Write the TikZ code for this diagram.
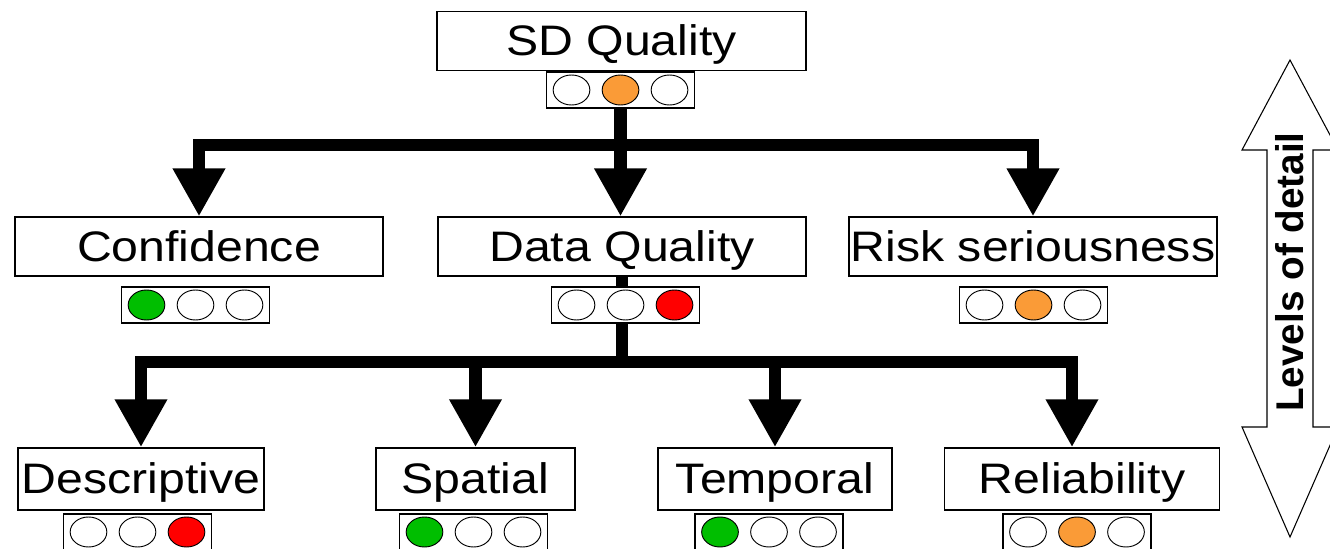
\documentclass[tikz,border=0pt]{standalone}
\usepackage{fontspec}
\setmainfont{Liberation Sans}
\newfontfamily\widefont[FakeStretch=1.13]{Liberation Sans}
\usetikzlibrary{arrows.meta,backgrounds,shapes.geometric}

\definecolor{lampgreen}{RGB}{0,190,0}
\definecolor{lamporange}{RGB}{250,155,55}
\definecolor{lampred}{RGB}{255,0,0}

\tikzset{
  namebox/.style={draw, line width=1.1pt, fill=white, inner sep=0pt,
    minimum height=44pt, text height=22pt, text depth=0pt,
    font=\widefont\fontsize{32}{36}\selectfont},
  lampbox/.style={draw, line width=1pt, fill=white, inner sep=0pt,
    minimum width=111pt, minimum height=27pt},
  lamp/.style={ellipse, draw, line width=0.7pt, inner sep=0pt,
    minimum width=27.5pt, minimum height=22.5pt},
  conn/.style={line width=9.5pt, -{Triangle[width=37pt,length=36pt]}},
}

% three lamps inside a lamp box
\newcommand{\lamps}[4]{%
  \foreach \c [count=\i] in {#2,#3,#4}
    \node[lamp, fill=\c] (#1-\i) at ([xshift=(\i-2)*36.75pt]#1.center) {};
}

\begin{document}
\begin{tikzpicture}[x=0.75pt,y=-0.75pt]
    \useasboundingbox (0,0) rectangle (1330,549);

    % Boxes
    \node[namebox, minimum width=277pt] (sdq) at (621.5,41) {SD Quality};
    \node[namebox, minimum width=276pt] (conf) at (199,246.5) {Confidence};
    \node[namebox, minimum width=276pt] (dq) at (622,246.5) {Data Quality};
    \node[namebox, minimum width=276pt] (risk) at (1033,246.5) {Risk seriousness};
    \node[namebox, minimum width=184.5pt, minimum height=46.5pt] (desc) at (141,479) {Descriptive};
    \node[namebox, minimum width=149pt, minimum height=46.5pt] (spat) at (475.5,479) {Spatial};
    \node[namebox, minimum width=175.5pt, minimum height=46.5pt] (temp) at (775,479) {Temporal};
    \node[namebox, minimum width=206pt, minimum height=46.5pt] (rel) at (1082,479) {Reliability};

    % Traffic lights
    \node[lampbox] (sdqlamps) at (620.5,90) {};
    \node[lampbox] (conflamps) at (195.5,305) {};
    \node[lampbox] (dqlamps) at (625.5,305) {};
    \node[lampbox] (risklamps) at (1033.5,305) {};
    \node[lampbox] (desclamps) at (137.5,532) {};
    \node[lampbox] (spatlamps) at (473.5,532) {};
    \node[lampbox] (templamps) at (769,532) {};
    \node[lampbox] (rellamps) at (1077,532) {};
    \lamps{sdqlamps}{white}{lamporange}{white}
    \lamps{conflamps}{lampgreen}{white}{white}
    \lamps{dqlamps}{white}{white}{lampred}
    \lamps{risklamps}{white}{lamporange}{white}
    \lamps{desclamps}{white}{white}{lampred}
    \lamps{spatlamps}{lampgreen}{white}{white}
    \lamps{templamps}{lampgreen}{white}{white}
    \lamps{rellamps}{white}{lamporange}{white}

    % Arrows
    \begin{scope}[on background layer]
        \coordinate (fork1) at (sdqlamps.south |- 0,145);
        \draw[conn] (sdqlamps.south) -- (sdqlamps.south |- dq.north);
        \draw[conn] (fork1) -| (conf.north);
        \draw[conn] (fork1) -| (risk.north);
        \coordinate (fork2) at (dq.south |- 0,362);
        \draw[conn] (dq.south) -- (fork2) -| (desc.north);
        \draw[conn] (fork2) -| (spat.north);
        \draw[conn] (fork2) -| (temp.north);
        \draw[conn] (fork2) -| ([xshift=-7.5pt]rel.north);
    \end{scope}

    % Levels of detail
    \draw[line width=0.8pt, fill=white] (1290,60) -- (1338,150) -- (1313,150)
        -- (1313,427) -- (1338,427) -- (1290,537) -- (1242,427) -- (1267,427)
        -- (1267,150) -- (1242,150) -- cycle;
    \node[rotate=90, anchor=base, inner sep=0pt,
        font=\fontsize{29}{32}\selectfont\bfseries] (lod) at (1303,272) {Levels of detail};
\end{tikzpicture}
\end{document}
